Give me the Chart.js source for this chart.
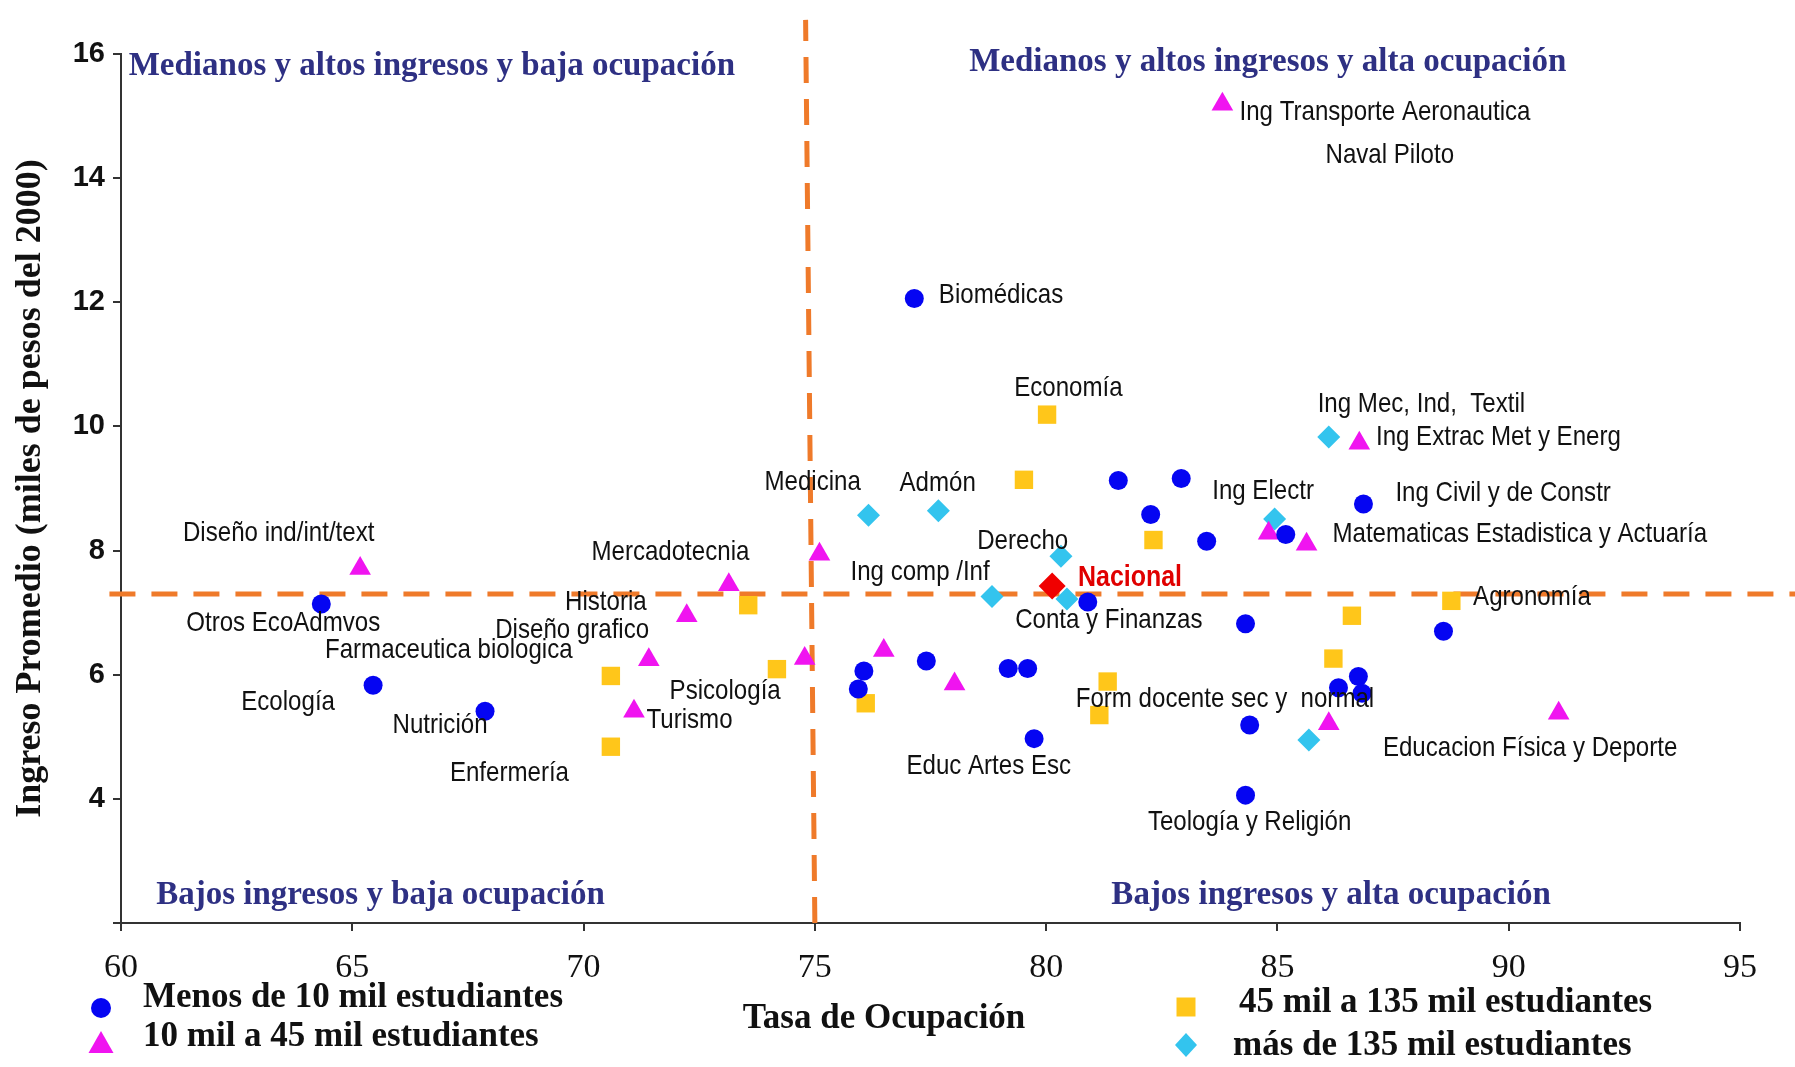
<!DOCTYPE html>
<html><head><meta charset="utf-8">
<script src="https://cdn.jsdelivr.net/npm/chart.js@4.4.1/dist/chart.umd.min.js"></script>
<style>html,body{margin:0;padding:0;background:#fff;}#wrap{width:1795px;height:1067px;position:relative;}</style>
</head><body><div id="wrap"><canvas id="c" width="1795" height="1067"></canvas></div>
<script>
// ---- axis ticks ----
const xTickValues = [60, 65, 70, 75, 80, 85, 90, 95];
const yTickValues = [2, 4, 6, 8, 10, 12, 14, 16];

// ---- series (Tasa de Ocupación, Ingreso Promedio) ----
const menos10X = [64.33,65.45,67.87,77.15,81.56,82.92,82.26,83.47,85.18,86.86,80.90,84.31,88.59,76.06,75.94,77.41,79.18,79.60,79.74,86.32,86.75,86.83,84.40,84.31];
const menos10Y = [7.14,5.83,5.41,12.06,9.13,9.16,8.58,8.15,8.26,8.75,7.17,6.82,6.70,6.06,5.77,6.22,6.10,6.10,4.97,5.79,5.97,5.70,5.19,4.06];

const de10a45X = [83.81,65.17,75.10,71.09,71.41,72.23,73.14,74.78,76.49,78.02,86.77,84.81,85.63,91.08,86.11];
const de10a45Y = [15.19,7.71,7.94,5.41,6.24,6.95,7.45,6.26,6.39,5.85,9.73,8.28,8.10,5.38,5.21];

const de45a135X = [70.59,70.59,73.56,74.18,76.10,80.02,79.52,82.32,81.33,81.15,88.76,86.61,86.21];
const de45a135Y = [4.84,5.98,7.12,6.09,5.54,10.19,9.14,8.17,5.89,5.35,7.19,6.95,6.26];

const mas135X = [76.16,77.67,80.32,78.83,80.45,86.11,84.94,85.68];
const mas135Y = [8.57,8.64,7.91,7.26,7.22,9.83,8.51,4.95];

const nacionalX = [80.13];
const nacionalY = [7.43];

// reference (dashed) lines
const vLineX = [75.0, 74.8];
const vLineY = [2, 16.55];
const hLineX = [59.75, 96.2];
const hLineY = [7.3, 7.3];

// ---- point labels (text, anchor in data units: left edge, middle) ----
const labelText = ["Ing Transporte Aeronautica","Naval Piloto","Biomédicas","Economía","Ing Mec, Ind,  Textil","Ing Extrac Met y Energ","Medicina","Admón","Ing Electr","Ing Civil y de Constr","Diseño ind/int/text","Derecho","Matematicas Estadistica y Actuaría","Mercadotecnia","Ing comp /Inf","Agronomía","Historia","Otros EcoAdmvos","Conta y Finanzas","Diseño grafico","Farmaceutica biologica","Psicología","Ecología","Form docente sec y  normal","Turismo","Nutrición","Educacion Física y Deporte","Educ Artes Esc","Enfermería","Teología y Religión"];
const labelX = [84.18,86.04,77.68,79.31,85.87,87.13,73.91,76.83,83.59,87.55,61.34,78.51,86.19,70.17,75.77,89.23,69.60,61.41,79.33,68.09,64.41,71.86,62.60,80.64,71.36,65.87,87.28,76.98,67.11,82.20];
const labelY = [15.06,14.37,12.11,10.61,10.35,9.83,9.10,9.08,8.95,8.92,8.28,8.15,8.26,7.98,7.65,7.25,7.16,6.83,6.88,6.72,6.39,5.74,5.56,5.61,5.27,5.19,4.81,4.53,4.42,3.63];

const nacionalLabel = "Nacional";
const nacionalLabelX = 80.69, nacionalLabelY = 7.56;

// quadrant captions (centre anchor in data units)
const quadText = ["Medianos y altos ingresos y baja ocupación","Medianos y altos ingresos y alta ocupación","Bajos ingresos y baja ocupación","Bajos ingresos y alta ocupación"];
const quadX = [66.72, 84.79, 65.61, 86.16];
const quadY = [15.80, 15.87, 2.44, 2.44];

const seriesNames = ["Menos de 10 mil estudiantes","10 mil a 45 mil estudiantes","45 mil a 135 mil estudiantes","más de 135 mil estudiantes"];
const xTitle = "Tasa de Ocupación";
const yTitle = "Ingreso Promedio (miles de pesos del 2000)";

// ---- styles ----
const C_BLUE = '#0505F2', C_MAG = '#F014F0', C_YEL = '#FFC61A', C_CYAN = '#33C4EE', C_RED = '#F00000', C_ORANGE = '#EF7A2A', C_NAVY = '#2E3083';
const SANS = '"Liberation Sans", Arial, sans-serif';
const SERIF = '"Liberation Serif", "DejaVu Serif", serif';
const NARROW_SCALE = 0.86;

const zip = (xs, ys) => xs.map((v, i) => ({x: v, y: ys[i]}));

function narrowText(ctx, text, px, py) {
  ctx.save();
  ctx.translate(px, py);
  ctx.scale(NARROW_SCALE, 1);
  ctx.fillText(text, 0, 0);
  ctx.restore();
}

const pointLabels = {
  id: 'pointLabels',
  afterDatasetsDraw(chart) {
    const {ctx, scales: {x, y}} = chart;
    ctx.save();
    ctx.textBaseline = 'middle';
    ctx.textAlign = 'left';
    ctx.fillStyle = '#111';
    ctx.font = '28px ' + SANS;
    labelText.forEach((t, i) => narrowText(ctx, t, x.getPixelForValue(labelX[i]), y.getPixelForValue(labelY[i])));
    ctx.fillStyle = '#E00000';
    ctx.font = 'bold 29px ' + SANS;
    narrowText(ctx, nacionalLabel, x.getPixelForValue(nacionalLabelX), y.getPixelForValue(nacionalLabelY));
    ctx.fillStyle = C_NAVY;
    ctx.textAlign = 'center';
    ctx.font = 'bold 33px ' + SERIF;
    quadText.forEach((t, i) => ctx.fillText(t, x.getPixelForValue(quadX[i]), y.getPixelForValue(quadY[i])));
    ctx.restore();
  },
  afterDraw(chart) {
    const {ctx} = chart;
    ctx.save();
    ctx.fillStyle = '#111';
    ctx.textBaseline = 'middle';
    ctx.font = 'bold 35px ' + SERIF;
    ctx.textAlign = 'center';
    ctx.fillText(xTitle, 884, 1019);
    ctx.textAlign = 'left';
    // legend
    const items = [
      {shape: 'circle', c: C_BLUE, mx: 101, my: 1008, tx: 143, ty: 998},
      {shape: 'triangle', c: C_MAG, mx: 101, my: 1045, tx: 143, ty: 1037},
      {shape: 'rect', c: C_YEL, mx: 1186, my: 1007, tx: 1239, ty: 1003},
      {shape: 'rectRot', c: C_CYAN, mx: 1186, my: 1045, tx: 1233, ty: 1046}
    ];
    items.forEach((it, i) => {
      ctx.fillStyle = it.c;
      ctx.beginPath();
      if (it.shape === 'circle') ctx.arc(it.mx, it.my, 10, 0, Math.PI * 2);
      else if (it.shape === 'triangle') { ctx.moveTo(it.mx, it.my - 14); ctx.lineTo(it.mx + 12.5, it.my + 8); ctx.lineTo(it.mx - 12.5, it.my + 8); ctx.closePath(); }
      else if (it.shape === 'rect') ctx.rect(it.mx - 9.5, it.my - 9.5, 19, 19);
      else { ctx.moveTo(it.mx, it.my - 12); ctx.lineTo(it.mx + 11, it.my); ctx.lineTo(it.mx, it.my + 12); ctx.lineTo(it.mx - 11, it.my); ctx.closePath(); }
      ctx.fill();
      ctx.fillStyle = '#111';
      ctx.fillText(seriesNames[i], it.tx, it.ty);
    });
    ctx.restore();
  }
};

new Chart(document.getElementById('c'), {
  type: 'scatter',
  data: {
    datasets: [
      {label: 'vline', data: zip(vLineX, vLineY), showLine: true, borderColor: C_ORANGE, borderWidth: 5, borderDash: [26, 16], pointRadius: 0, clip: false, order: 10},
      {label: 'hline', data: zip(hLineX, hLineY), showLine: true, borderColor: C_ORANGE, borderWidth: 5, borderDash: [26, 16], pointRadius: 0, clip: false, order: 10},
      {label: seriesNames[0], data: zip(menos10X, menos10Y), pointStyle: 'circle', pointRadius: 9.5, backgroundColor: C_BLUE, borderColor: C_BLUE, borderWidth: 0, order: 1},
      {label: seriesNames[1], data: zip(de10a45X, de10a45Y), pointStyle: 'triangle', pointRadius: 12.5, backgroundColor: C_MAG, borderColor: C_MAG, borderWidth: 0, order: 1},
      {label: seriesNames[2], data: zip(de45a135X, de45a135Y), pointStyle: 'rect', pointRadius: 13, backgroundColor: C_YEL, borderColor: C_YEL, borderWidth: 0, order: 1},
      {label: seriesNames[3], data: zip(mas135X, mas135Y), pointStyle: 'rectRot', pointRadius: 11.5, backgroundColor: C_CYAN, borderColor: C_CYAN, borderWidth: 0, order: 1},
      {label: 'Nacional', data: zip(nacionalX, nacionalY), pointStyle: 'rectRot', pointRadius: 13.5, backgroundColor: C_RED, borderColor: C_RED, borderWidth: 0, order: 0}
    ]
  },
  options: {
    responsive: false,
    animation: false,
    events: [],
    layout: {padding: {top: 54, right: 55, left: 0, bottom: 0}},
    plugins: {legend: {display: false}, tooltip: {enabled: false}},
    scales: {
      x: {
        type: 'linear', min: xTickValues[0], max: xTickValues[xTickValues.length - 1],
        afterBuildTicks: s => { s.ticks = xTickValues.map(v => ({value: v})); },
        ticks: {font: {family: SERIF, size: 34}, color: '#111', padding: 17, maxRotation: 0},
        grid: {drawOnChartArea: false, drawTicks: true, tickLength: 8, color: '#333', lineWidth: 2},
        border: {display: true, color: '#333', width: 2},
        afterFit: s => { s.height = 144; }
      },
      y: {
        type: 'linear', min: yTickValues[0], max: yTickValues[yTickValues.length - 1],
        afterBuildTicks: s => { s.ticks = yTickValues.map(v => ({value: v})); },
        ticks: {font: {family: SANS, size: 29, weight: 'bold'}, color: '#111', padding: 8, callback: v => v === 2 ? '' : v},
        grid: {drawOnChartArea: false, drawTicks: true, tickLength: 8, color: '#333', lineWidth: 2},
        border: {display: true, color: '#333', width: 2},
        title: {display: true, text: yTitle, font: {family: SERIF, size: 36, weight: 'bold'}, color: '#111', padding: {top: 9, bottom: 0}},
        afterFit: s => { s.width = 121; }
      }
    }
  },
  plugins: [pointLabels]
});
</script>
</body></html>
